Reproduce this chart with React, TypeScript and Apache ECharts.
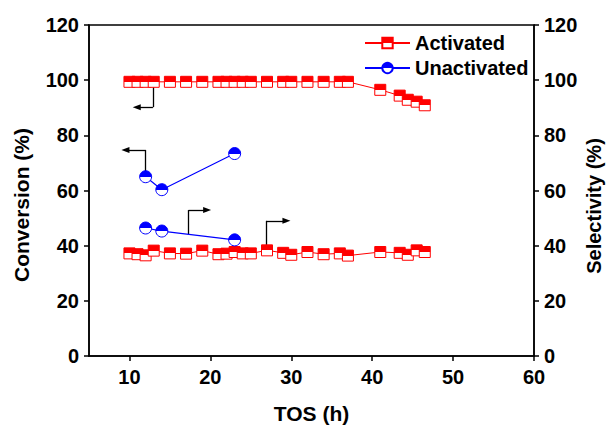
import React, { useEffect, useRef } from 'react';
import * as echarts from 'echarts';

// TOS (h) of the activated catalyst runs
const tosActivated = [10, 11, 12, 13, 15, 17, 19, 21, 22, 23, 24, 25, 27, 29, 30, 32, 34, 36, 37, 41, 43.4, 44.4, 45.5, 46.5];
// Conversion (%) – activated (left axis)
const conversionActivated = [99.4, 99.4, 99.4, 99.4, 99.4, 99.4, 99.4, 99.4, 99.4, 99.4, 99.4, 99.4, 99.4, 99.4, 99.4, 99.4, 99.4, 99.4, 99.4, 96.5, 94.4, 92.9, 92.2, 90.9];
// Selectivity (%) – activated (right axis)
const selectivityActivated = [37.2, 36.9, 36.5, 38.2, 37.2, 37.1, 38.2, 36.9, 37.1, 37.7, 37.2, 37.2, 38.3, 37.4, 36.7, 37.7, 36.9, 37.2, 36.4, 37.7, 37.4, 36.7, 38.3, 37.7];
// Unactivated catalyst
const tosUnactivated = [12, 14, 23];
const conversionUnactivated = [65.0, 60.3, 73.4];
const selectivityUnactivated = [46.4, 45.3, 42.1];

const xTicks = [10, 20, 30, 40, 50, 60];
const legendNames = ['Activated', 'Unactivated'];

// Annotation arrows in data coordinates: [start, corner, arrow tip]
const arrows: number[][][] = [
  [[12.9, 97.6], [12.9, 90.2], [10.9, 90.2]],
  [[12.0, 66.9], [12.0, 74.7], [9.5, 74.7]],
  [[17.3, 44.1], [17.3, 52.9], [19.6, 52.9]],
  [[26.9, 40.0], [26.9, 49.0], [29.4, 49.0]],
];

const RED = '#ff0000';
const BLUE = '#0000ff';
const FONT = '"Liberation Sans", Arial, Helvetica, sans-serif';

const halfFill = (c: string) => ({
  type: 'linear', x: 0, y: 0, x2: 0, y2: 1,
  colorStops: [
    { offset: 0, color: c }, { offset: 0.5, color: c },
    { offset: 0.5, color: '#ffffff' }, { offset: 1, color: '#ffffff' },
  ],
});

const zip = (xs: number[], ys: number[]) => xs.map((x, i) => [x, ys[i]]);

export default function App() {
  const ref = useRef<HTMLDivElement>(null);
  useEffect(() => {
    if (!ref.current) return;
    const chart = echarts.init(ref.current, undefined, { renderer: 'svg' });
    const labelStyle = { fontSize: 20, fontWeight: 'bold', fontFamily: FONT, color: '#000' };
    const axisLine = { show: true, lineStyle: { color: '#000', width: 1.5 } };
    const axisTick = { show: true, length: 5, lineStyle: { color: '#000', width: 1.5 } };

    const markLineData: any[] = [];
    arrows.forEach((a) => {
      markLineData.push([{ coord: a[0], symbol: 'none' }, { coord: a[1], symbol: 'none' }]);
      markLineData.push([{ coord: a[1], symbol: 'none' }, { coord: a[2], symbol: 'triangle' }]);
    });

    const redItem = { color: halfFill(RED), borderColor: RED, borderWidth: 1 };
    const blueItem = { color: halfFill(BLUE), borderColor: BLUE, borderWidth: 1 };

    chart.setOption({
      animation: false,
      backgroundColor: '#ffffff',
      grid: { left: 89, right: 72, top: 25, bottom: 70, show: true, borderColor: '#000', borderWidth: 1.5 },
      legend: {
        data: legendNames,
        orient: 'vertical',
        left: 359,
        top: 28,
        itemWidth: 45,
        itemHeight: 13,
        itemGap: 5,
        lineStyle: { width: 2 },
        textStyle: { ...labelStyle, lineHeight: 20 },
      },
      xAxis: {
        type: 'value', min: 5, max: 60,
        axisLine, axisTick: { ...axisTick, customValues: xTicks },
        axisLabel: { ...labelStyle, margin: 11, customValues: xTicks },
        splitLine: { show: false },
      },
      yAxis: [
        {
          type: 'value', min: 0, max: 120, interval: 20, position: 'left',
          axisLine, axisTick, axisLabel: { ...labelStyle, margin: 10 }, splitLine: { show: false },
        },
        {
          type: 'value', min: 0, max: 120, interval: 20, position: 'right',
          axisLine, axisTick, axisLabel: { ...labelStyle, margin: 10 }, splitLine: { show: false },
        },
      ],
      graphic: [
        { type: 'text', x: 21, y: 205, rotation: Math.PI / 2, style: { text: 'Conversion (%)', fontSize: 21, fontWeight: 'bold', fontFamily: FONT, fill: '#000', align: 'center', verticalAlign: 'middle' } },
        { type: 'text', x: 594, y: 206, rotation: Math.PI / 2, style: { text: 'Selectivity (%)', fontSize: 20, fontWeight: 'bold', fontFamily: FONT, fill: '#000', align: 'center', verticalAlign: 'middle' } },
        { type: 'text', x: 311.5, y: 413, style: { text: 'TOS (h)', fontSize: 21, fontWeight: 'bold', fontFamily: FONT, fill: '#000', align: 'center', verticalAlign: 'middle' } },
      ],
      series: [
        {
          name: 'Activated', type: 'line', yAxisIndex: 0,
          data: zip(tosActivated, conversionActivated),
          symbol: 'rect', symbolSize: 11, showAllSymbol: true,
          itemStyle: redItem, lineStyle: { color: RED, width: 1 },
          markLine: {
            silent: true, z: 1, animation: false,
            symbolSize: [6, 8],
            label: { show: false },
            lineStyle: { color: '#000', width: 1.3, type: 'solid' },
            itemStyle: { color: '#000' },
            data: markLineData,
          },
        },
        {
          name: 'Activated', type: 'line', yAxisIndex: 1,
          data: zip(tosActivated, selectivityActivated),
          symbol: 'rect', symbolSize: 11, showAllSymbol: true,
          itemStyle: redItem, lineStyle: { color: RED, width: 1 },
        },
        {
          name: 'Unactivated', type: 'line', yAxisIndex: 0,
          data: zip(tosUnactivated, conversionUnactivated),
          symbol: 'circle', symbolSize: 12,
          itemStyle: blueItem, lineStyle: { color: BLUE, width: 1.2 },
        },
        {
          name: 'Unactivated', type: 'line', yAxisIndex: 1,
          data: zip(tosUnactivated, selectivityUnactivated),
          symbol: 'circle', symbolSize: 12,
          itemStyle: blueItem, lineStyle: { color: BLUE, width: 1.2 },
        },
      ],
    });
    return () => chart.dispose();
  }, []);
  return <div ref={ref} style={{ position: 'absolute', left: 0, top: 0, width: 606, height: 426, background: '#fff' }} />;
}
